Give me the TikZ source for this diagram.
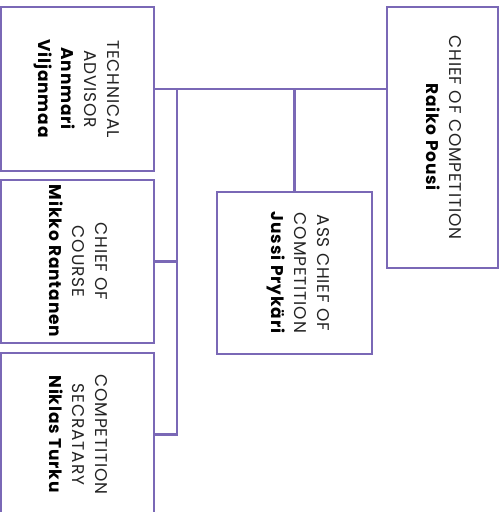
\documentclass[tikz,border=0pt]{standalone}
\usepackage{fontspec}
\setmainfont{Poppins}[LetterSpace=5]
\definecolor{orgline}{RGB}{122,104,182}
\definecolor{orgtext}{RGB}{35,35,35}
\newcommand{\vtext}[1]{\rotatebox{-90}{\begin{tabular}{@{}c@{}}#1\end{tabular}}}
\newcommand{\who}[1]{\textcolor{black}{\textbf{#1}}}

\begin{document}
\begin{tikzpicture}[x=1pt, y=-1pt,
    post/.style={draw=orgline, line width=2.6pt, inner sep=0pt, text=orgtext,
      font=\fontsize{17}{23}\selectfont},
    link/.style={draw=orgline, line width=2.4pt}]
  \useasboundingbox (0,0) rectangle (503,512);

  \node[post, minimum width=153pt, minimum height=164pt] (tech) at (77.5, 89)
    {\vtext{TECHNICAL\\ADVISOR\\\who{Annmari}\\\who{Viljanmaa}}};
  \node[post, minimum width=153pt, minimum height=163pt] (course) at (77.5, 261.5)
    {\vtext{CHIEF OF\\COURSE\\\who{Mikko Rantanen}}};
  \node[post, minimum width=153pt, minimum height=163pt] (secr) at (77.5, 434.5)
    {\vtext{COMPETITION\\SECRATARY\\\who{Niklas Turku}}};
  \node[post, minimum width=155pt, minimum height=162pt] (ass) at (294.5, 273)
    {\hspace{10pt}\vtext{ASS CHIEF OF\\COMPETITION\\\who{Jussi Prykäri}}};
  \node[post, minimum width=111pt, minimum height=261pt] (chief) at (442.5, 137.5)
    {\vtext{CHIEF OF COMPETITION\\\who{Raiko Pousi}}};

  \coordinate (trunk) at (177, 89);

  \draw[link] (tech.east) -- (tech.east -| chief.west);
  \draw[link] (trunk) |- (secr.east);
  \draw[link] (course.east) -- (course.east -| trunk);
  \draw[link] (ass.north) -- (ass.north |- trunk);
\end{tikzpicture}
\end{document}
